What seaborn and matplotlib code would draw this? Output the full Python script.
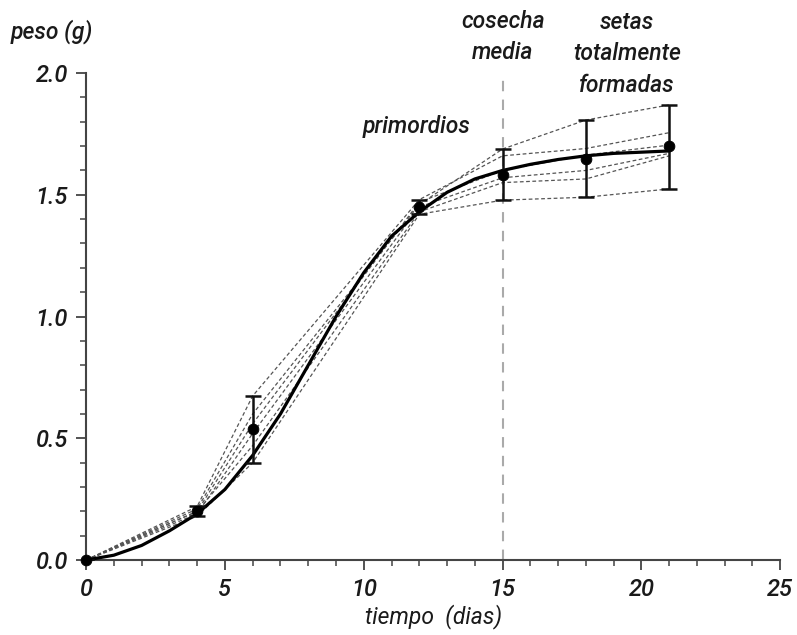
import numpy as np
import pandas as pd
import matplotlib
matplotlib.use("Agg")
import matplotlib.pyplot as plt
from matplotlib.ticker import MultipleLocator
import seaborn as sns

# sampling days and mean weight (g)
days = [0, 4, 6, 12, 15, 18, 21]
mean_weight = [0.0, 0.20, 0.54, 1.45, 1.58, 1.645, 1.70]
err_low = [0.0, 0.18, 0.40, 1.42, 1.478, 1.49, 1.524]
err_high = [0.0, 0.22, 0.674, 1.48, 1.688, 1.807, 1.869]

# individual replicates (dashed)
rep1 = [0.0, 0.21, 0.60, 1.46, 1.688, 1.807, 1.869]
rep2 = [0.0, 0.22, 0.674, 1.48, 1.66, 1.69, 1.755]
rep3 = [0.0, 0.20, 0.56, 1.47, 1.60, 1.663, 1.704]
rep4 = [0.0, 0.19, 0.52, 1.45, 1.57, 1.60, 1.67]
rep5 = [0.0, 0.20, 0.47, 1.43, 1.55, 1.565, 1.66]
rep6 = [0.0, 0.18, 0.40, 1.42, 1.478, 1.49, 1.524]

fit_days = list(range(22))
fit_weight = [0.0, 0.02, 0.06, 0.12, 0.19, 0.29, 0.43, 0.60, 0.80, 1.00, 1.18,
              1.33, 1.43, 1.51, 1.565, 1.60, 1.625, 1.645, 1.66, 1.67, 1.675, 1.68]

x_ticks = [0, 5, 10, 15, 20, 25]
y_ticks = [0.0, 0.5, 1.0, 1.5, 2.0]

sns.set_style("ticks")
plt.rcParams["font.family"] = ["Roboto", "DejaVu Sans"]
plt.rcParams["font.style"] = "italic"
plt.rcParams["font.weight"] = "medium"
txt = "#1a1a1a"

fig = plt.figure(figsize=(7.97, 6.35), dpi=100)
ax = fig.add_axes([0.108, 0.118, 0.871, 0.767])

# harvest marker
ax.plot([15, 15], [0, 1.99], color="#aaaaaa", lw=1.5, dashes=(5, 4), zorder=1)

for rep in [rep1, rep2, rep3, rep4, rep5, rep6]:
    sns.lineplot(x=days, y=rep, ax=ax, color="#555555", lw=0.9,
                 dashes=False, zorder=2)
for line in ax.lines[1:]:
    line.set_dashes((3, 2))

sns.lineplot(x=fit_days, y=fit_weight, ax=ax, color="black", lw=2.3, zorder=3)

yerr = [np.array(mean_weight) - np.array(err_low),
        np.array(err_high) - np.array(mean_weight)]
ax.errorbar(days, mean_weight, yerr=yerr, fmt="none", ecolor="#111111",
            elinewidth=1.8, capsize=5.5, capthick=1.8, zorder=4)
sns.scatterplot(x=days, y=mean_weight, ax=ax, color="black", s=60,
                edgecolor="black", zorder=5, clip_on=False)

ax.set_xlim(0, 25)
ax.set_ylim(0, 2.0)
ax.set_xticks(x_ticks)
ax.set_xticklabels([str(v) for v in x_ticks])
ax.set_yticks(y_ticks)
ax.set_yticklabels([f"{v:.1f}" for v in y_ticks])
ax.xaxis.set_minor_locator(MultipleLocator(1))
ax.yaxis.set_minor_locator(MultipleLocator(0.1))
ax.tick_params(which="major", length=7, width=1.3, color="#444444",
               labelsize=17, labelcolor=txt, pad=6)
ax.tick_params(which="minor", length=4, width=1.1, color="#444444")
sns.despine(ax=ax)
for s in ["left", "bottom"]:
    ax.spines[s].set_linewidth(1.5)
    ax.spines[s].set_color("#444444")

ax.set_xlabel("tiempo  (dias)", fontsize=16.5, color=txt, labelpad=2)
ax.set_ylabel("")
fig.text(0.013, 0.95, "peso (g)", fontsize=16.5, color=txt, va="center")

ax.text(11.9, 1.78, "primordios", fontsize=16.5, color=txt, ha="center", va="center")
fig.text(0.631, 0.942, "cosecha\nmedia", fontsize=16.5, color=txt,
         ha="center", va="center", linespacing=1.45)
fig.text(0.787, 0.915, "setas\ntotalmente\nformadas", fontsize=16.5, color=txt,
         ha="center", va="center", linespacing=1.45)

fig.savefig("out.png", dpi=100)
